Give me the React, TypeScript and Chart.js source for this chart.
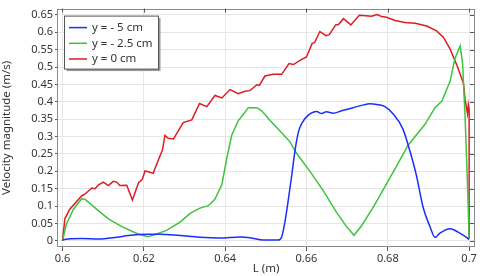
import React, { useEffect, useRef } from "react";
import { Chart, registerables } from "chart.js";

Chart.register(...registerables);

// ---- data ----
const seriesLabels = ["y = - 5 cm", "y = - 2.5 cm", "y = 0 cm"];
const seriesColors = ["#1a2eff", "#3cc43c", "#dd1c24"];

const blueL = [0.6, 0.6005, 0.6047, 0.6088, 0.6133, 0.6162, 0.6187, 0.6211, 0.624, 0.6289, 0.6338, 0.6387, 0.6437, 0.6461, 0.6494, 0.653, 0.6539, 0.6547, 0.6555, 0.6564, 0.6572, 0.658, 0.659, 0.6604, 0.6625, 0.6637, 0.6649, 0.6666, 0.6686, 0.6715, 0.674, 0.6756, 0.6773, 0.6793, 0.6814, 0.6837, 0.6855, 0.687, 0.6887, 0.6904, 0.6916, 0.6929, 0.6953, 0.6973, 0.699, 0.7];
const blueV = [0.002, 0.004, 0.007, 0.005, 0.01, 0.015, 0.018, 0.019, 0.019, 0.015, 0.01, 0.008, 0.011, 0.009, 0.002, 0.002, 0.011, 0.054, 0.115, 0.19, 0.261, 0.312, 0.341, 0.361, 0.372, 0.366, 0.371, 0.367, 0.374, 0.383, 0.391, 0.394, 0.392, 0.386, 0.364, 0.322, 0.256, 0.19, 0.096, 0.04, 0.01, 0.023, 0.035, 0.025, 0.013, 0.004];

const greenL = [0.6, 0.601, 0.6027, 0.6047, 0.6055, 0.6068, 0.6088, 0.6113, 0.6146, 0.6187, 0.6211, 0.6228, 0.6256, 0.6289, 0.6314, 0.6338, 0.6359, 0.6375, 0.6392, 0.6404, 0.6416, 0.6432, 0.6445, 0.6457, 0.6478, 0.649, 0.651, 0.6535, 0.656, 0.6576, 0.6609, 0.6642, 0.6674, 0.6699, 0.6717, 0.6736, 0.6764, 0.6781, 0.6805, 0.6814, 0.685, 0.6892, 0.6916, 0.6933, 0.6953, 0.6965, 0.6978, 0.6984, 0.699, 0.6996, 0.7];
const greenV = [0, 0.049, 0.091, 0.121, 0.12, 0.107, 0.087, 0.063, 0.041, 0.019, 0.012, 0.018, 0.03, 0.054, 0.079, 0.094, 0.101, 0.12, 0.162, 0.237, 0.303, 0.345, 0.364, 0.383, 0.383, 0.374, 0.347, 0.316, 0.284, 0.251, 0.199, 0.143, 0.082, 0.04, 0.016, 0.044, 0.096, 0.131, 0.181, 0.199, 0.275, 0.336, 0.383, 0.402, 0.458, 0.524, 0.561, 0.51, 0.359, 0.162, 0.011];

const redL = [0.6, 0.6006, 0.6018, 0.6047, 0.6055, 0.6072, 0.608, 0.6088, 0.61, 0.6113, 0.6125, 0.6133, 0.6141, 0.6158, 0.6172, 0.6187, 0.6196, 0.6203, 0.6213, 0.6223, 0.6236, 0.6246, 0.6252, 0.626, 0.6273, 0.6297, 0.6318, 0.6337, 0.6355, 0.6375, 0.6392, 0.6412, 0.6432, 0.6449, 0.6461, 0.6478, 0.6484, 0.6498, 0.6518, 0.6539, 0.6557, 0.6568, 0.6584, 0.66, 0.6614, 0.662, 0.6633, 0.6648, 0.6656, 0.6672, 0.6679, 0.6691, 0.6709, 0.673, 0.676, 0.6774, 0.6785, 0.6797, 0.6818, 0.6842, 0.6867, 0.6896, 0.692, 0.6937, 0.6953, 0.697, 0.6986, 0.699, 0.6996, 0.6998, 0.7, 0.7];
const redV = [0, 0.064, 0.091, 0.129, 0.134, 0.152, 0.15, 0.16, 0.169, 0.159, 0.171, 0.169, 0.159, 0.16, 0.117, 0.167, 0.176, 0.201, 0.198, 0.194, 0.233, 0.262, 0.303, 0.295, 0.293, 0.34, 0.348, 0.395, 0.386, 0.418, 0.411, 0.435, 0.423, 0.43, 0.432, 0.449, 0.447, 0.474, 0.479, 0.479, 0.51, 0.507, 0.519, 0.529, 0.568, 0.57, 0.602, 0.59, 0.593, 0.621, 0.622, 0.639, 0.621, 0.649, 0.646, 0.651, 0.645, 0.643, 0.634, 0.628, 0.626, 0.618, 0.604, 0.585, 0.552, 0.505, 0.453, 0.406, 0.366, 0.392, 0.378, 0.007];

const xTicks = [0.6, 0.62, 0.64, 0.66, 0.68, 0.7];
const xTickLabels = ["0.6", "0.62", "0.64", "0.66", "0.68", "0.7"];
const yTicks = [0, 0.05, 0.1, 0.15, 0.2, 0.25, 0.3, 0.35, 0.4, 0.45, 0.5, 0.55, 0.6, 0.65];
const yTickLabels = ["0", "0.05", "0.1", "0.15", "0.2", "0.25", "0.3", "0.35", "0.4", "0.45", "0.5", "0.55", "0.6", "0.65"];

const FONT = "'Noto Sans', 'Open Sans', sans-serif";
const FRAME = "#8a8a8a";

const toPoints = (xs: number[], ys: number[]) => xs.map((x, i) => ({ x, y: ys[i] }));

const framePlugin = {
  id: "frame",
  afterDatasetsDraw(chart: any) {
    const { ctx, chartArea: a, scales } = chart;
    ctx.save();
    ctx.strokeStyle = FRAME;
    ctx.lineWidth = 1;
    ctx.strokeRect(Math.round(a.left) - 0.5, Math.round(a.top) + 0.5, Math.round(a.right - a.left) + 1, Math.round(a.bottom - a.top) - 1);
    ctx.strokeStyle = "#555";
    ctx.beginPath();
    xTicks.forEach((v) => {
      const px = Math.round(scales.x.getPixelForValue(v)) + 0.5;
      ctx.moveTo(px, a.top);
      ctx.lineTo(px, a.top + 4);
    });
    yTicks.forEach((v) => {
      const py = Math.round(scales.y.getPixelForValue(v)) + 0.5;
      ctx.moveTo(a.right, py);
      ctx.lineTo(a.right - 4, py);
    });
    ctx.stroke();
    ctx.restore();
  },
  afterDraw(chart: any) {
    const { ctx, chartArea: a } = chart;
    const bx = a.left + 6.5;
    const by = a.top + 7.5;
    const bw = 94;
    const bh = 53;
    ctx.save();
    ctx.fillStyle = "#9a9a9a";
    ctx.fillRect(bx + 2, by + 2, bw, bh);
    ctx.fillStyle = "#ffffff";
    ctx.fillRect(bx, by, bw, bh);
    ctx.strokeStyle = "#555";
    ctx.lineWidth = 1;
    ctx.strokeRect(bx, by, bw, bh);
    ctx.font = `11.5px ${FONT}`;
    ctx.textBaseline = "middle";
    ctx.textAlign = "left";
    chart.data.datasets.forEach((ds: any, i: number) => {
      const ry = by + 11.5 + i * 15.7;
      ctx.strokeStyle = ds.borderColor;
      ctx.lineWidth = 1.5;
      ctx.beginPath();
      ctx.moveTo(bx + 4.5, ry);
      ctx.lineTo(bx + 22.5, ry);
      ctx.stroke();
      ctx.fillStyle = "#333";
      ctx.fillText(ds.label, bx + 27.5, ry);
    });
    ctx.restore();
  },
};

export default function App() {
  const ref = useRef<HTMLCanvasElement | null>(null);
  useEffect(() => {
    if (!ref.current) return;
    const series = [
      { l: blueL, v: blueV, tension: 0.3 },
      { l: greenL, v: greenV, tension: 0 },
      { l: redL, v: redV, tension: 0 },
    ];
    const chart = new Chart(ref.current, {
      type: "line",
      data: {
        datasets: series.map((s, i) => ({
          label: seriesLabels[i],
          data: toPoints(s.l, s.v),
          borderColor: seriesColors[i],
          backgroundColor: seriesColors[i],
          borderWidth: 1.5,
          pointRadius: 0,
          tension: s.tension,
          cubicInterpolationMode: i === 0 ? "monotone" : "default",
          fill: false,
        })),
      },
      options: {
        animation: false,
        responsive: false,
        layout: { padding: { top: 4, right: 6, left: 0, bottom: 0 } },
        plugins: { legend: { display: false }, tooltip: { enabled: false } },
        scales: {
          x: {
            type: "linear",
            min: 0.5989,
            max: 0.7012,
            afterBuildTicks: (s: any) => {
              s.ticks = xTicks.map((v) => ({ value: v }));
            },
            afterFit: (s: any) => {
              s.height = 29;
            },
            ticks: {
              callback: (v: any) => {
                const i = xTicks.findIndex((t) => Math.abs(t - v) < 1e-9);
                return i >= 0 ? xTickLabels[i] : "";
              },
              font: { family: FONT, size: 11 },
              color: "#333",
              padding: 1,
              maxRotation: 0,
            },
            grid: { color: "#e6e6e6", tickColor: "#555", tickLength: 4 },
            border: { display: false },
            title: { display: true, text: "L (m)", font: { family: FONT, size: 11.5 }, color: "#333", padding: { top: 0, bottom: 0 } },
          },
          y: {
            type: "linear",
            min: -0.0178,
            max: 0.668,
            afterBuildTicks: (s: any) => {
              s.ticks = yTicks.map((v) => ({ value: v }));
            },
            afterFit: (s: any) => {
              s.width = 58;
            },
            ticks: {
              callback: (v: any) => {
                const i = yTicks.findIndex((t) => Math.abs(t - v) < 1e-9);
                return i >= 0 ? yTickLabels[i] : "";
              },
              font: { family: FONT, size: 11 },
              color: "#333",
              padding: 2,
            },
            grid: { color: "#e6e6e6", tickColor: "#555", tickLength: 3 },
            border: { display: false },
            title: { display: true, text: "Velocity magnitude (m/s)", font: { family: FONT, size: 11.5 }, color: "#333", padding: { top: 0, bottom: 0 } },
          },
        },
      } as any,
      plugins: [framePlugin],
    });
    return () => chart.destroy();
  }, []);
  return (
    <div style={{ position: "absolute", left: 0, top: 0, width: 480, height: 276 }}>
      <canvas ref={ref} width={480} height={276} style={{ display: "block" }} />
    </div>
  );
}
